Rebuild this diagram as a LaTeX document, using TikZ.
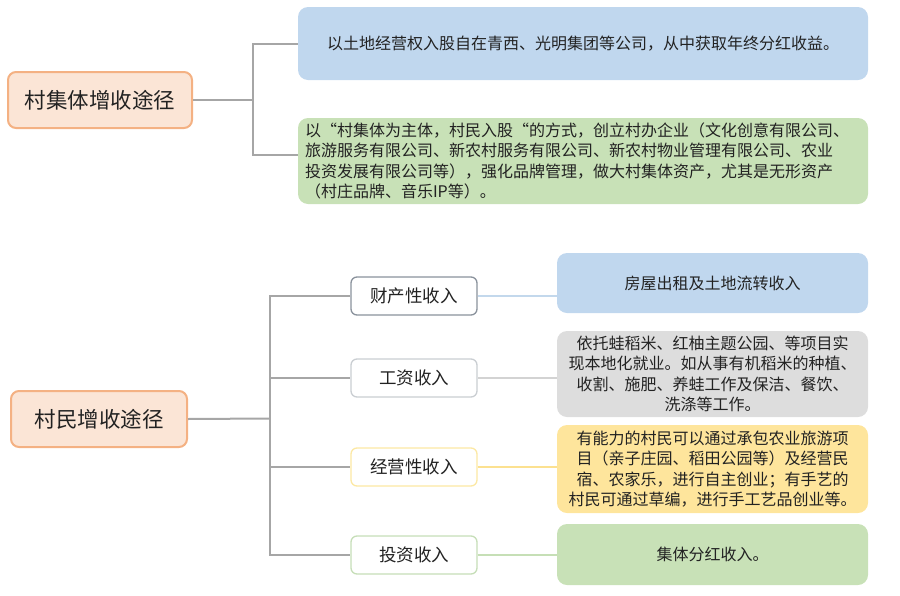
\documentclass[tikz,border=0pt]{standalone}
\usepackage{fontspec}
\setmainfont{Noto Sans CJK SC}
\usetikzlibrary{calc}
\definecolor{rootfill}{HTML}{FBE5D6}
\definecolor{rootdraw}{HTML}{F4B183}
\definecolor{bluefill}{HTML}{C0D7EE}
\definecolor{greenfill}{HTML}{C8E1B7}
\definecolor{grayfill}{HTML}{DDDDDD}
\definecolor{yellowfill}{HTML}{FEE59C}
\definecolor{treeline}{HTML}{A6A6A6}
\definecolor{txt}{HTML}{222222}
\definecolor{kone}{HTML}{8A929C}
\definecolor{ktwo}{HTML}{CACED2}
\definecolor{kthree}{HTML}{FCE8A4}
\definecolor{kfour}{HTML}{C6DEB8}
\definecolor{lone}{HTML}{C3D8EC}
\definecolor{ltwo}{HTML}{D3D3D3}
\definecolor{lthree}{HTML}{FCE190}
\definecolor{lfour}{HTML}{C6DFB6}
\begin{document}
\begin{tikzpicture}[x=1pt,y=-1pt,
  every node/.style={text=txt, inner sep=0pt},
  rootbox/.style={draw=rootdraw, line width=2pt, fill=rootfill, rounded corners=8pt,
    font=\fontsize{21.5}{24}\selectfont, minimum height=56pt},
  bigbox/.style={rounded corners=10pt, font=\fontsize{16}{20.5}\selectfont, align=center},
  kidbox/.style={fill=white, line width=1.3pt, rounded corners=6pt, minimum width=126pt,
    minimum height=38pt, font=\fontsize{17.5}{20}\selectfont},
  tree/.style={draw=treeline, line width=2pt},
  leafline/.style={line width=1.5pt}]
\useasboundingbox (0,0) rectangle (900,595);

% top part
\node[rootbox, minimum width=184pt] (r1) at (100,100) {村集体增收途径};
\node[bigbox, fill=bluefill, minimum width=570pt, minimum height=73pt] (b1) at (583,43.5)
  {以土地经营权入股自在青西、光明集团等公司，从中获取年终分红收益。};
\node[bigbox, fill=greenfill, minimum width=570pt, minimum height=86pt, text width=556pt, align=left] (b2) at (583,161)
  {以“村集体为主体，村民入股“的方式，创立村办企业（文化创意有限公司、\\
   旅游服务有限公司、新农村服务有限公司、新农村物业管理有限公司、农业\\
   投资发展有限公司等），强化品牌管理，做大村集体资产，尤其是无形资产\\
   （村庄品牌、音乐IP等）。};

\coordinate (j1) at (253,100);
\coordinate (t1) at (253,43.5);
\coordinate (t2) at (253,155);
\draw[tree] (r1.east) -- (j1);
\draw[tree] (b1.west) -- (t1) -- (t2) -- (t2 -| b2.west);

% bottom part
\node[rootbox, minimum width=176pt] (r2) at (99,419) {村民增收途径};
\node[kidbox, draw=kone] (k1) at (414,296) {财产性收入};
\node[kidbox, draw=ktwo] (k2) at (414,378) {工资收入};
\node[kidbox, draw=kthree] (k3) at (414,467) {经营性收入};
\node[kidbox, draw=kfour] (k4) at (414,555) {投资收入};

\node[bigbox, fill=bluefill, minimum width=311pt, minimum height=60pt] (g1) at (712.5,283)
  {房屋出租及土地流转收入};
\node[bigbox, fill=grayfill, minimum width=311pt, minimum height=86pt] (g2) at (712.5,374)
  {依托蛙稻米、红柚主题公园、等项目实\\
   现本地化就业。如从事有机稻米的种植、\\
   收割、施肥、养蛙工作及保洁、餐饮、\\
   洗涤等工作。};
\node[bigbox, fill=yellowfill, minimum width=311pt, minimum height=88pt] (g3) at (712.5,469)
  {有能力的村民可以通过承包农业旅游项\\
   目（亲子庄园、稻田公园等）及经营民\\
   宿、农家乐，进行自主创业；有手艺的\\
   村民可通过草编，进行手工艺品创业等。};
\node[bigbox, fill=greenfill, minimum width=311pt, minimum height=61pt] (g4) at (712.5,554.5)
  {集体分红收入。};

\coordinate (j2) at (270,418.5);
\draw[tree] (r2.east) -- (j2);
\draw[tree] (k1.west) -- (j2 |- k1.west) -- (j2 |- k4.west) -- (k4.west);
\draw[tree] (j2 |- k2.west) -- (k2.west);
\draw[tree] (j2 |- k3.west) -- (k3.west);

\draw[leafline, draw=lone] (k1.east) -- (k1.east -| g1.west);
\draw[leafline, draw=ltwo] (k2.east) -- (k2.east -| g2.west);
\draw[leafline, draw=lthree] (k3.east) -- (k3.east -| g3.west);
\draw[leafline, draw=lfour] (k4.east) -- (k4.east -| g4.west);
\end{tikzpicture}
\end{document}
